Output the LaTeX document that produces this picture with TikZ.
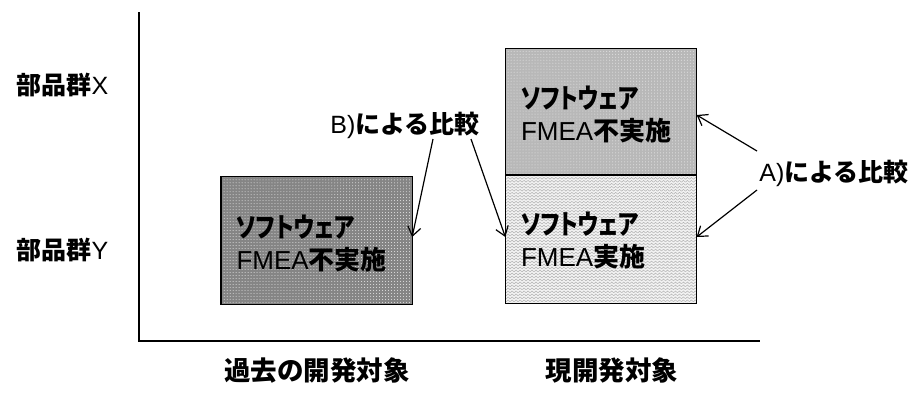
\documentclass[tikz,border=0pt]{standalone}
\usepackage{fontspec}
\setmainfont{Liberation Sans}
\newfontfamily\jpfont{Noto Sans CJK JP}
\newfontfamily\jppfont{Noto Sans CJK JP}[RawFeature=+palt]
\newcommand\jtxt[1]{{\jpfont\bfseries #1}}
\newcommand\jptxt[1]{\scalebox{0.84}[1.05]{\jppfont\bfseries #1}}
\usetikzlibrary{arrows.meta,patterns,patterns.meta}
\tikzdeclarepattern{
  name=zigzagpat,
  type=uncolored,
  bounding box={(-0.5pt,-0.5pt) and (4.5pt,3.5pt)},
  tile size={(4pt,3pt)},
  code={\draw[line width=.5pt] (0,.6pt) -- (2pt,2.4pt) -- (4pt,.6pt);}
}
\definecolor{darkbox}{HTML}{858585}
\definecolor{midbox}{HTML}{B8B8B8}
\definecolor{lightbox}{HTML}{F2F2F2}
\tikzset{
  axisline/.style={line width=1.5bp, draw=black},
  boxnode/.style={draw=black, line width=1.3bp, inner sep=15bp, text width=160bp,
    minimum width=190bp, align=left, font=\fontsize{26bp}{32bp}\selectfont},
  lbl/.style={inner sep=0pt, font=\fontsize{25bp}{30bp}\selectfont},
  collbl/.style={inner sep=0pt, font=\fontsize{26.5bp}{30bp}\selectfont},
  cmparrow/.style={line width=1.2bp, -{Straight Barb[length=9bp,width=13bp,line width=1.2bp]}},
}
\begin{document}
\begin{tikzpicture}[x=1bp,y=-1bp]
\useasboundingbox (0,0) rectangle (915,392);
% axes
\coordinate (ytop) at (139,12);
\coordinate (orig) at (139,341);
\coordinate (xend) at (760,341);
\draw[axisline] (ytop) -- (orig) -- (xend);
% box outlines (named)
\node[boxnode, minimum height=127bp, draw=none] (pastY) at (316.5,240.5) {};
\node[boxnode, minimum height=126bp, draw=none] (curX) at (601,112) {};
\node[boxnode, minimum height=128bp, draw=none] (curY) at (601,239) {};
% fills and textures
\fill[darkbox] (pastY.north west) rectangle (pastY.south east);
\path[pattern=dots, pattern color=white!80!darkbox] (pastY.north west) rectangle (pastY.south east);
\fill[midbox] (curX.north west) rectangle (curX.south east);
\path[pattern=dots, pattern color=white!70!midbox] (curX.north west) rectangle (curX.south east);
\fill[lightbox] (curY.north west) rectangle (curY.south east);
\path[pattern=zigzagpat, pattern color=black!30] (curY.north west) rectangle (curY.south east);
\draw[line width=1.3bp] (pastY.north west) rectangle (pastY.south east);
\draw[line width=1.3bp] (curX.north west) rectangle (curX.south east);
\draw[line width=1.3bp] (curY.north west) rectangle (curY.south east);
% box texts
\node[boxnode, minimum height=127bp, draw=none] (pastYtxt) at (316.5,243) {\jptxt{ソフトウェア}\\FMEA\jtxt{不実施}};
\node[boxnode, minimum height=126bp, draw=none] (curXtxt) at (601,114) {\jptxt{ソフトウェア}\\FMEA\jtxt{不実施}};
\node[boxnode, minimum height=128bp, draw=none] (curYtxt) at (601,240) {\jptxt{ソフトウェア}\\FMEA\jtxt{実施}};
% row / column labels
\node[lbl] (gX) at (62.5,85) {\jtxt{部品群}X};
\node[lbl] (gY) at (62.5,250) {\jtxt{部品群}Y};
\node[collbl] (colPast) at (317,370) {\jtxt{過去の開発対象}};
\node[collbl] (colCur) at (612,370) {\jtxt{現開発対象}};
% comparison labels
\node[lbl] (labB) at (405,125) {B)\jtxt{による比較}};
\node[lbl] (labA) at (834,173) {A)\jtxt{による比較}};
\coordinate (b1) at (433,139);
\coordinate (b2) at (471,139);
\coordinate (a1) at (757,151);
\coordinate (a2) at (757,190);
\draw[cmparrow] (b1) -- ([yshift=3.5bp]pastY.east);
\draw[cmparrow] (b2) -- ([yshift=2bp]curY.west);
\draw[cmparrow] (a1) -- ([yshift=-3bp]curX.east);
\draw[cmparrow] (a2) -- ([yshift=2bp]curY.east);
\end{tikzpicture}
\end{document}
